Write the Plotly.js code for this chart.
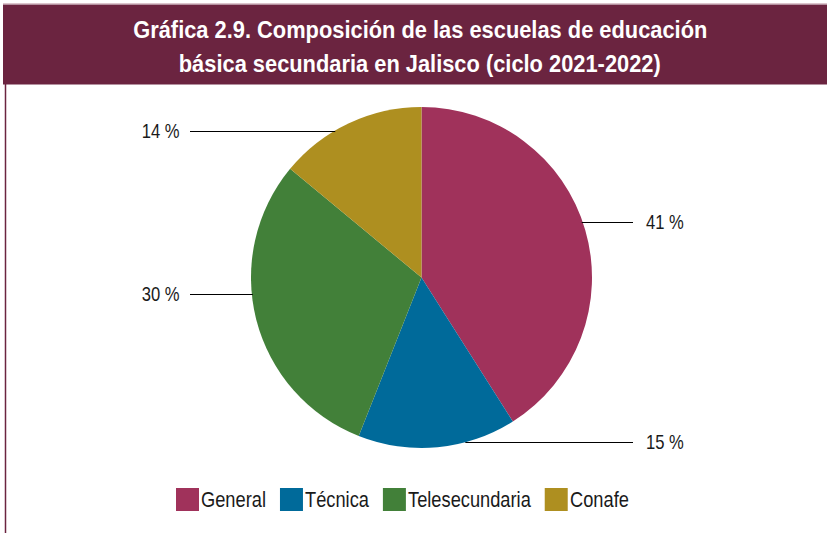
<!DOCTYPE html>
<html>
<head>
<meta charset="utf-8">
<script src="https://cdn.plot.ly/plotly-3.0.1.min.js"></script>
<style>
  html, body { margin: 0; padding: 0; background: #ffffff; }
  #chart { width: 827px; height: 533px; }
</style>
</head>
<body>
<div id="chart"></div>
<script>
// ---- data ----
const categories = ['General', 'Técnica', 'Telesecundaria', 'Conafe'];
const values = [41, 15, 30, 14];
const pctLabels = ['41 %', '15 %', '30 %', '14 %'];
const colors = ['#A0325B', '#006A9A', '#428039', '#AE8F20'];
const titleLines = ['Gráfica 2.9. Composición de las escuelas de educación',
                    'básica secundaria en Jalisco (ciclo 2021-2022)'];

// ---- layout constants (pixels) ----
const W = 827, H = 533;
const cx = 421.5, cy = 277.5, R = 170.5;
const labelRows = [222, 442, 294, 131];
const labelSide = ['right', 'right', 'left', 'left'];
const lineOuterLeft = 190, lineOuterRight = 633;
const textLeftEnd = 182, textRightStart = 644;
const FONT = '"Liberation Sans", Arial, Helvetica, sans-serif';
const SQUEEZE = 0.83;           // horizontal condensing of text (narrow Helvetica look)
const TITLE_SQUEEZE = 0.95;
const barColor = '#6B2440';
const titleRows = [30.5, 63.5];

const px = x => x / W;
const py = y => 1 - y / H;

const shapes = [];
const annotations = [];
const squeezes = [];

// title bar and frame
shapes.push({type: 'rect', xref: 'paper', yref: 'paper', x0: px(3), x1: 1, y0: py(84.5), y1: py(4.5),
  fillcolor: barColor, line: {width: 0}, layer: 'below'});
shapes.push({type: 'line', xref: 'paper', yref: 'paper', x0: px(3), x1: 1, y0: py(3.5), y1: py(3.5),
  line: {color: '#dcc4cc', width: 1}});
shapes.push({type: 'line', xref: 'paper', yref: 'paper', x0: px(5.5), x1: px(5.5), y0: py(84), y1: 0,
  line: {color: barColor, width: 1.5}});

// title lines
titleLines.forEach((t, i) => {
  annotations.push({xref: 'paper', yref: 'paper', x: px(420), y: py(titleRows[i]), xanchor: 'center', yanchor: 'middle',
    showarrow: false, text: '<b>' + t + '</b>', font: {family: FONT, size: 23, color: '#ffffff'}});
  squeezes.push(TITLE_SQUEEZE);
});

// percentage labels with leader lines to the pie edge
categories.forEach((c, i) => {
  const y = labelRows[i];
  const dy = y - cy;
  const dx = Math.sqrt(Math.max(0, R * R - dy * dy));
  const right = labelSide[i] === 'right';
  const edgeX = right ? cx + dx - 1 : cx - dx + 1;
  const outerX = right ? lineOuterRight : lineOuterLeft;
  shapes.push({type: 'line', xref: 'paper', yref: 'paper', x0: px(outerX), x1: px(edgeX), y0: py(y + 0.5), y1: py(y + 0.5),
    line: {color: '#000000', width: 1}});
  annotations.push({xref: 'paper', yref: 'paper', x: px(right ? textRightStart : textLeftEnd), y: py(y),
    xanchor: right ? 'left' : 'right', yanchor: 'middle', showarrow: false, text: pctLabels[i],
    font: {family: FONT, size: 20, color: '#1a1a1a'}});
  squeezes.push(SQUEEZE);
});

// custom legend (large square swatches)
const legendFontSize = 22;
const canvas = document.createElement('canvas');
const ctx = canvas.getContext('2d');
ctx.font = legendFontSize + 'px ' + FONT;
let lx = 176;
const sw = 23, legTop = 488, legMid = 499.5;
categories.forEach((c, i) => {
  shapes.push({type: 'rect', xref: 'paper', yref: 'paper', x0: px(lx), x1: px(lx + sw), y0: py(legTop + sw), y1: py(legTop),
    fillcolor: colors[i], line: {width: 0}});
  const tx = lx + sw + 1;
  annotations.push({xref: 'paper', yref: 'paper', x: px(tx), y: py(legMid), xanchor: 'left', yanchor: 'middle',
    showarrow: false, text: c, borderpad: 0, font: {family: FONT, size: legendFontSize, color: '#1a1a1a'}});
  squeezes.push(SQUEEZE);
  lx = tx + ctx.measureText(c).width * SQUEEZE + 15;
});

const trace = {
  type: 'pie',
  labels: categories,
  values: values,
  sort: false,
  direction: 'clockwise',
  rotation: 0,
  textinfo: 'none',
  hoverinfo: 'label+percent',
  showlegend: false,
  marker: {colors: colors, line: {width: 0}},
  domain: {x: [px(cx - R), px(cx + R)], y: [py(cy + R), py(cy - R)]}
};

const layout = {
  width: W, height: H,
  margin: {l: 0, r: 0, t: 0, b: 0},
  paper_bgcolor: '#ffffff',
  showlegend: false,
  shapes: shapes,
  annotations: annotations
};

function squeezeText(gd) {
  gd.querySelectorAll('g.annotation').forEach(g => {
    const i = +g.getAttribute('data-index');
    const ann = gd.layout.annotations[i];
    const t = g.querySelector('text.annotation-text');
    if (!ann || !t) return;
    const s = squeezes[i];
    const bb = t.getBBox();
    const ax = ann.xanchor === 'left' ? bb.x : (ann.xanchor === 'right' ? bb.x + bb.width : bb.x + bb.width / 2);
    const prev = t.getAttribute('transform') || '';
    t.setAttribute('transform', prev + ' translate(' + ax + ',0) scale(' + s + ',1) translate(' + (-ax) + ',0)');
  });
}

Plotly.newPlot('chart', [trace], layout, {displayModeBar: false, staticPlot: true})
  .then(gd => squeezeText(gd));
</script>
</body>
</html>
